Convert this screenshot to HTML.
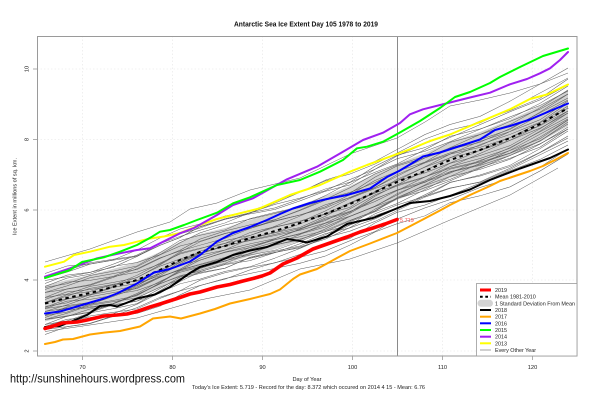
<!DOCTYPE html>
<html><head><meta charset="utf-8"><style>
html,body{margin:0;padding:0;background:#fff;}
svg{display:block;font-family:"Liberation Sans",Arial,sans-serif;}
</style></head><body>
<svg width="601" height="400" viewBox="0 0 601 400" xmlns="http://www.w3.org/2000/svg">
<defs>
<polyline id="w1" points="45,303.5 67,300 90,292 113,288 137,283 160,270 180,258 200,253 225,248 250,237 275,231 300,226 325,215 350,202 375,192 397,184 425,170 450,157 480,150 510,140 540,125 568,108"/>
<polyline id="w2" points="45,303.5 67,296 90,294 113,290 137,280 160,268 180,259 200,254 225,246 250,241 275,232 300,222 325,211 350,204 375,194 397,183 425,169 450,160 480,153 510,139 540,123 568,108"/>
<polyline id="w3" points="45,304.5 67,298 90,290 113,286 137,282 160,271 180,263 200,252 225,244 250,238 275,233 300,224 325,214 350,207 375,191 397,180 425,172 450,162 480,149 510,136 540,124 568,109"/>
<polyline id="w4" points="45,302.5 67,299 90,295 113,287 137,278 160,267 180,260 200,254 225,247 250,237 275,229 300,223 325,216 350,205 375,195 397,182 425,170 450,161 480,148 510,138 540,126 568,107"/>
<polyline id="w5" points="45,305.5 67,297 90,293 113,285 137,281 160,273 180,261 200,251 225,243 250,237 275,231 300,225 325,217 350,205 375,191 397,182 425,173 450,159 480,151 510,141 540,124 568,106"/>
</defs>
<rect width="601" height="400" fill="#fff"/>
<!-- grid -->
<g stroke="#e4e4e4" stroke-width="0.6" stroke-dasharray="1.5 2">
<line x1="82.5" y1="36" x2="82.5" y2="356"/><line x1="172.5" y1="36" x2="172.5" y2="356"/><line x1="262.5" y1="36" x2="262.5" y2="356"/><line x1="352.5" y1="36" x2="352.5" y2="356"/><line x1="442.5" y1="36" x2="442.5" y2="356"/><line x1="532.5" y1="36" x2="532.5" y2="356"/>
<line x1="37" y1="69" x2="577" y2="69"/><line x1="37" y1="139.5" x2="577" y2="139.5"/><line x1="37" y1="210" x2="577" y2="210"/><line x1="37" y1="280" x2="577" y2="280"/><line x1="37" y1="351" x2="577" y2="351"/>
</g>
<!-- std band -->
<polygon fill="#d3d3d3" points="45,285.5 67,280 90,275 113,269 137,262 160,252 180,242 200,234 225,228 250,220 275,213 300,205 325,196 350,186 375,174 397,164 425,153 450,142 480,132 510,120 540,106 568,90 568,126 540,142 510,156 480,168 450,178 425,189 397,200 375,210 350,222 325,232 300,241 275,249 250,256 225,264 200,270 180,278 160,288 137,298 113,305 90,311 67,316 45,321.5"/>
<line x1="397.5" y1="36" x2="397.5" y2="356" stroke="#8a8a8a" stroke-width="1"/>
<!-- every other year thin lines -->
<g fill="none" stroke="#5a5a5a" stroke-width="0.5" stroke-linejoin="round">
<polyline points="45,262 90,249 137,232 170,222 190,209 217,203 250,190 300,178 350,154 397,138 425,122 450,106 480,100 510,93 540,84 568,73"/>
<polyline points="45,331.5 90,325 137,318 200,300 250,290 300,269 350,259 397,243 450,220 510,195 558,168"/>
<use href="#w2" transform="matrix(1,0,0,1,0,-30)"/>
<use href="#w3" transform="matrix(1,0.003824,0,1,0,-26.172)"/>
<use href="#w4" transform="matrix(1,-0.011472,0,1,0,-21.484)"/>
<use href="#w5" transform="matrix(1,0.005736,0,1,0,-19.258)"/>
<use href="#w1" transform="matrix(1,-0.011472,0,1,0,-15.484)"/>
<use href="#w2" transform="matrix(1,0.007648,0,1,0,-14.344)"/>
<use href="#w3" transform="matrix(1,-0.005736,0,1,0,-11.742)"/>
<use href="#w4" transform="matrix(1,0.007648,0,1,0,-10.344)"/>
<use href="#w5" transform="matrix(1,-0.007648,0,1,0,-7.656)"/>
<use href="#w1" transform="matrix(1,0.007648,0,1,0,-6.344)"/>
<use href="#w2" transform="matrix(1,-0.007648,0,1,0,-3.656)"/>
<use href="#w3" transform="matrix(1,0.007648,0,1,0,-2.344)"/>
<use href="#w4" transform="matrix(1,-0.007648,0,1,0,0.344)"/>
<use href="#w5" transform="matrix(1,0.005736,0,1,0,1.742)"/>
<use href="#w1" transform="matrix(1,-0.005736,0,1,0,3.258)"/>
<use href="#w2" transform="matrix(1,0.007648,0,1,0,4.656)"/>
<use href="#w3" transform="matrix(1,-0.005736,0,1,0,7.258)"/>
<use href="#w4" transform="matrix(1,0.007648,0,1,0,8.656)"/>
<use href="#w5" transform="matrix(1,-0.005736,0,1,0,10.258)"/>
<use href="#w1" transform="matrix(1,0.007648,0,1,0,11.656)"/>
<use href="#w2" transform="matrix(1,-0.005736,0,1,0,14.258)"/>
<use href="#w3" transform="matrix(1,0.00956,0,1,0,14.57)"/>
<use href="#w4" transform="matrix(1,-0.003824,0,1,0,17.172)"/>
<use href="#w5" transform="matrix(1,0.011472,0,1,0,18.484)"/>
<use href="#w1" transform="matrix(1,-0.003824,0,1,0,21.172)"/>
<use href="#w2" transform="matrix(1,0.013384,0,1,0,22.398)"/>
<use href="#w3" transform="matrix(1,0.021033,0,1,0,24.054)"/>
<use href="#w4" transform="matrix(1,0.028681,0,1,0,25.709)"/>
<use href="#w5" transform="matrix(1,0.036329,0,1,0,27.365)"/>
<use href="#w1" transform="matrix(1,0.022945,0,1,0,14.967)"/>
<use href="#w2" transform="matrix(1,-0.038241,0,1,0,-18.279)"/>
<use href="#w3" transform="matrix(1,0.01912,0,1,0,-28.86)"/>
<use href="#w4" transform="matrix(1,0.030593,0,1,0,4.623)"/>
<use href="#w5" transform="matrix(1,0.032505,0,1,0,-4.463)"/>
<use href="#w2" transform="matrix(1,0.042065,0,1,0,9.107)"/>
</g>
<!-- mean -->
<polyline fill="none" stroke="#000" stroke-width="2" stroke-dasharray="3.5 3.5" points="45,303.5 67,298 90,293 113,287 137,280 160,270 180,260 200,252 225,246 250,238 275,231 300,223 325,214 350,204 375,192 397,182 425,171 450,160 480,150 510,138 540,124 568,108"/>
<!-- years -->
<g fill="none" stroke-width="2" stroke-linejoin="round" stroke-linecap="round">
<polyline stroke="#ffff00" points="45,266.7 64,261.7 74,255 90,251.7 110,246.7 124,245 137,241.7 150,238.5 164,236.5 180,233 200,225 217,219 233,215 260,208.3 290,195 320,185 350,171.7 367,165 399,153.3 410,149.3 430,141 450,134.5 470,126 490,117.7 510,109.3 530,99 547,94.5 568,84.5"/>
<polyline stroke="#a020f0" points="45,276.7 70,268.3 97,258.3 120,253.3 137,250 150,248.3 170,238.3 180,233.3 194,228 217,215 233,205 253,198.3 287,179.3 317,166.7 343,151.7 363,140 383,132.7 400,123 410,114.3 423,109.3 450,102.5 470,97.5 490,92.7 510,84.3 527,79 540,73.3 550,68.3 560,60 568,52"/>
<polyline stroke="#00ff00" points="45,278 70,270 82,262 104,257.3 120,251.7 137,245 152,236.7 160,231.7 170,230 184,225 197,220 217,212.7 233,203.3 250,197.3 277,185 300,180 320,171.7 343,160 357,148.3 367,146.7 383,141.7 399,133 420,121 440,108 455,97 470,92 490,83 500,77 520,67 543,56 568,48.5"/>
<polyline stroke="#0000ff" points="45,313.5 60,311.5 77,306.5 87,303.5 104,298.5 117,293.5 137,283.5 154,272.5 170,269 190,261.5 200,255 217,241.5 233,233 250,227 267,220 280,214 293,208.5 310,203 327,199 347,195 370,188.5 387,177 399,171 410,164.5 423,156.5 440,152.5 460,146 480,139.5 495,130 510,126 530,119.5 550,111 568,103.5"/>
<polyline stroke="#ffa500" points="45,344 55,342 63,339.5 73,339 90,334.5 105,332.5 120,331 140,326.5 153,318.5 170,316.5 181,318.5 200,313.5 215,309 230,303.5 250,299 270,294 280,289.5 293,279 300,274.5 317,269 337,258 350,251 370,243.5 397,233 420,221 440,210.5 450,205 470,195 490,186 500,181 515,176 530,171 543,166 555,160 568,153"/>
<polyline stroke="#000000" points="45,327 60,326 70,322 87,315 100,306 110,305 117,306.5 130,301.5 137,298.5 155,294.5 170,287 190,273 200,267 217,262 233,255 250,250.5 267,247 287,239 300,241 307,242.5 327,236.5 347,224 373,218 399,207.5 410,203 430,201 450,196 470,189.5 490,180 520,168.5 550,158 568,149.5"/>
<polyline stroke="#ff0000" stroke-width="3.6" points="45,328.5 55,325.5 62,323 77,322 87,320 104,316 117,315 127,314 137,311.5 150,307 160,304 177,298.5 190,294 200,292 217,287 230,284.5 243,281 253,278.5 262,276 270,273 283,264 297,258 313,249 330,243 347,237 360,232 373,228 385,224 397,219.5"/>
</g>
<text x="400" y="222" font-size="5.5" fill="#ff4a4a">5.719</text>
<!-- box & axes -->
<rect x="37.5" y="36.5" width="539.5" height="319.5" fill="none" stroke="#9a9a9a" stroke-width="1"/>
<g stroke="#9a9a9a" stroke-width="0.8">
<line x1="33" y1="69" x2="37" y2="69"/><line x1="33" y1="139.5" x2="37" y2="139.5"/><line x1="33" y1="210" x2="37" y2="210"/><line x1="33" y1="280" x2="37" y2="280"/><line x1="33" y1="351" x2="37" y2="351"/>
<line x1="82.5" y1="356" x2="82.5" y2="360"/><line x1="172.5" y1="356" x2="172.5" y2="360"/><line x1="262.5" y1="356" x2="262.5" y2="360"/><line x1="352.5" y1="356" x2="352.5" y2="360"/><line x1="442.5" y1="356" x2="442.5" y2="360"/><line x1="532.5" y1="356" x2="532.5" y2="360"/>
</g>
<g font-size="5.7" fill="#222" text-anchor="middle">
<text x="82.5" y="369">70</text><text x="172.5" y="369">80</text><text x="262.5" y="369">90</text><text x="352.5" y="369">100</text><text x="442.5" y="369">110</text><text x="532.5" y="369">120</text>
<text transform="translate(28.5,69) rotate(-90)">10</text>
<text transform="translate(28.5,139.5) rotate(-90)">8</text>
<text transform="translate(28.5,210) rotate(-90)">6</text>
<text transform="translate(28.5,280) rotate(-90)">4</text>
<text transform="translate(28.5,351) rotate(-90)">2</text>
</g>
<text transform="translate(16.5,196.5) rotate(-90)" font-size="5.5" fill="#222" text-anchor="middle" textLength="77" lengthAdjust="spacingAndGlyphs">Ice Extent in millions of sq. km.</text>
<text x="306" y="26.5" font-size="7.2" font-weight="bold" fill="#111" text-anchor="middle" textLength="144" lengthAdjust="spacingAndGlyphs">Antarctic Sea Ice Extent Day 105 1978 to 2019</text>
<!-- legend -->
<rect x="476.5" y="283.5" width="100.5" height="72.5" fill="#fff" stroke="#9a9a9a" stroke-width="0.8"/>
<g fill="none" stroke-width="2">
<line x1="480" y1="290" x2="491" y2="290" stroke="#ff0000" stroke-width="3"/>
<line x1="480" y1="296.7" x2="491" y2="296.7" stroke="#000" stroke-dasharray="2.7 2.6"/>
<line x1="480" y1="310" x2="491" y2="310" stroke="#000"/>
<line x1="480" y1="316.7" x2="491" y2="316.7" stroke="#ffa500"/>
<line x1="480" y1="323.3" x2="491" y2="323.3" stroke="#0000ff"/>
<line x1="480" y1="330" x2="491" y2="330" stroke="#00ff00"/>
<line x1="480" y1="336.7" x2="491" y2="336.7" stroke="#a020f0"/>
<line x1="480" y1="343.3" x2="491" y2="343.3" stroke="#ffff00"/>
<line x1="480" y1="350" x2="491" y2="350" stroke="#888" stroke-width="0.8"/>
</g>
<rect x="477.5" y="299.8" width="15.5" height="7" rx="3.5" fill="#d3d3d3"/>
<g font-size="5.4" fill="#222">
<text x="495" y="292">2019</text>
<text x="495" y="298.7">Mean 1981-2010</text>
<text x="495" y="305.3" textLength="80" lengthAdjust="spacingAndGlyphs">1 Standard Deviation From Mean</text>
<text x="495" y="312">2018</text>
<text x="495" y="318.7">2017</text>
<text x="495" y="325.3">2016</text>
<text x="495" y="332">2015</text>
<text x="495" y="338.7">2014</text>
<text x="495" y="345.3">2013</text>
<text x="495" y="352">Every Other Year</text>
</g>
<!-- bottom texts -->
<text x="10" y="382.5" font-size="12" fill="#111" textLength="175" lengthAdjust="spacingAndGlyphs">http://sunshinehours.wordpress.com</text>
<text x="307" y="381" font-size="5.5" fill="#222" text-anchor="middle" textLength="29" lengthAdjust="spacingAndGlyphs">Day of Year</text>
<text x="192" y="389" font-size="5.5" fill="#222" textLength="233" lengthAdjust="spacingAndGlyphs">Today's Ice Extent: 5.719  - Record for the day: 8.372 which occured on 2014 4 15  - Mean: 6.76</text>
</svg>
</body></html>
